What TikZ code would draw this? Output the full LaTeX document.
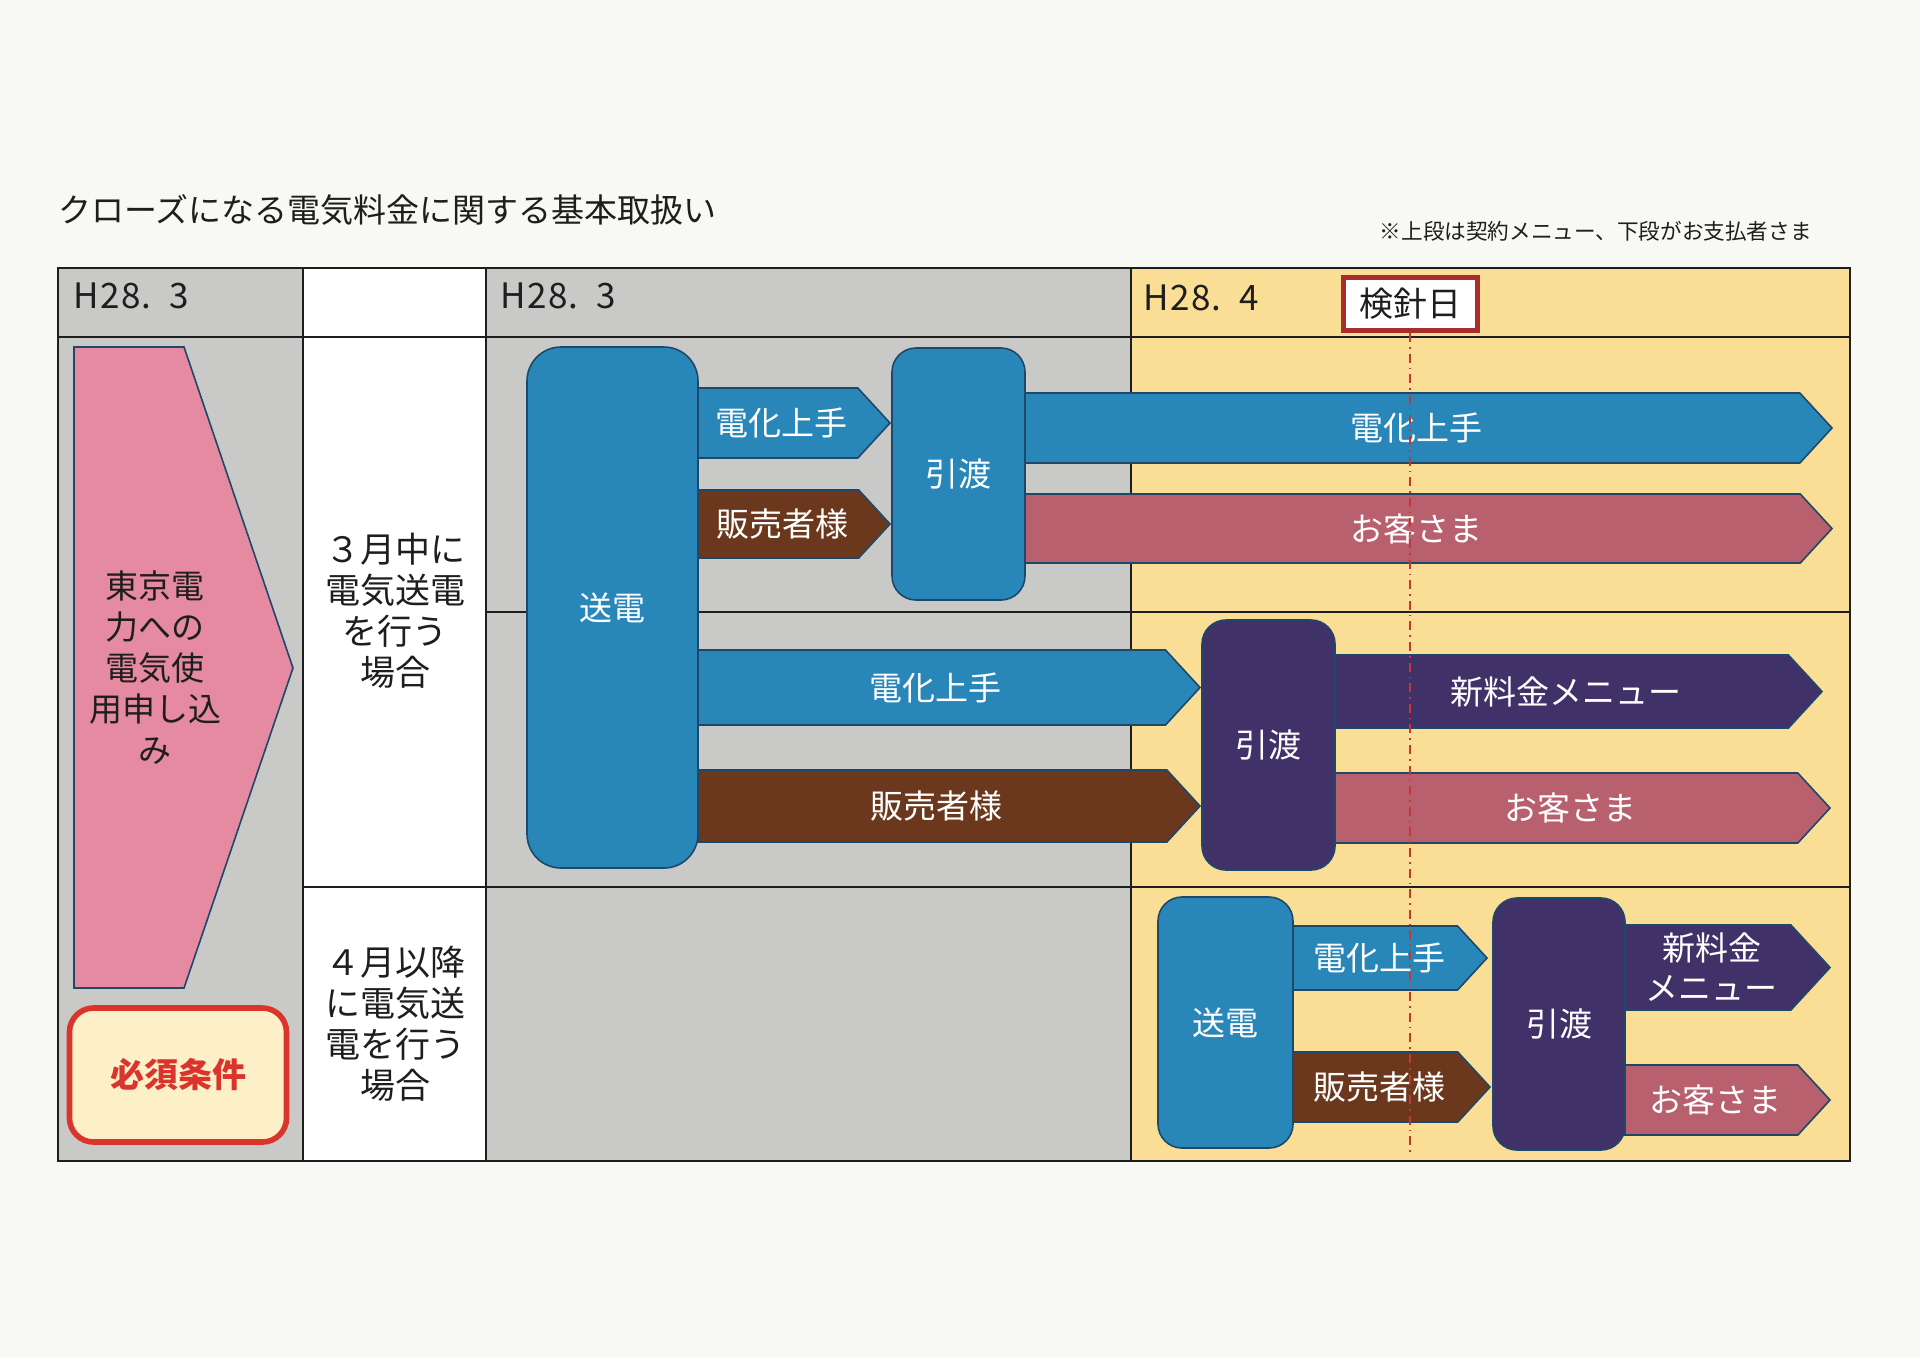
\documentclass[tikz,border=0pt]{standalone}
\usepackage{fontspec}
\setmainfont{Noto Sans CJK JP}
\definecolor{paper}{RGB}{248,248,245}
\definecolor{cgray}{RGB}{201,201,199}
\definecolor{cyellow}{RGB}{250,222,150}
\definecolor{cblue}{RGB}{41,134,184}
\definecolor{cbrown}{RGB}{107,56,30}
\definecolor{crose}{RGB}{184,96,110}
\definecolor{cpurple}{RGB}{64,50,104}
\definecolor{cpink}{RGB}{229,138,160}
\definecolor{ccream}{RGB}{253,240,200}
\definecolor{cred}{RGB}{218,52,45}
\definecolor{cdred}{RGB}{168,45,45}
\definecolor{cdash}{RGB}{196,55,50}
\definecolor{edge}{RGB}{30,72,105}
\definecolor{ink}{RGB}{30,30,30}
\tikzset{
  grid/.style={draw=ink, line width=1pt},
  wtxt/.style={text=white, font=\fontsize{16.5}{20}\selectfont, inner sep=0pt, align=center},
  btxt/.style={text=ink, font=\fontsize{17.5}{20.5}\selectfont, inner sep=0pt, align=center},
  hdr/.style={text=ink, font=\fontsize{17.5}{20}\selectfont\addfontfeature{LetterSpace=4}, inner sep=0pt, anchor=west},
  bluearrow/.style={fill=cblue, draw=edge, line width=0.8pt},
  brownarrow/.style={fill=cbrown, draw=edge, line width=0.8pt},
  rosearrow/.style={fill=crose, draw=edge, line width=0.8pt},
  purplearrow/.style={fill=cpurple, draw=edge, line width=0.8pt},
  bluebox/.style={fill=cblue, draw=edge, line width=0.8pt},
  purplebox/.style={fill=cpurple, draw=edge, line width=0.8pt},
}
% rounded box: name, x1, y1, x2, y2, style, text
\newcommand\rbox[7]{%
  \path[#6] (#2,#3) rectangle (#4,#5);
  \node[wtxt] (#1) at ({(#2+#4)/2},{(#3+#5)/2}) {#7};}
% chevron arrow: name, x1, y1, x2(tip), y2, style, text
\newcommand\chev[7]{%
  \path[#6] (#2,#3) -- ({#4-0.46*(#5-#3)},#3) -- (#4,{(#3+#5)/2}) -- ({#4-0.46*(#5-#3)},#5) -- (#2,#5) -- cycle;
  \node[wtxt] (#1) at ({(#2+#4-0.46*(#5-#3))/2+4},{(#3+#5)/2}) {#7};}
\begin{document}
\begin{tikzpicture}[x=0.5pt, y=-0.5pt]
\fill[paper] (0,0) rectangle (1920,1357);
\useasboundingbox (0,0) rectangle (1920,1357);

% title and note
\node[anchor=west, text=ink, inner sep=0pt, font=\fontsize{16.5}{20}\selectfont] (title) at (58,210) {クローズになる電気料金に関する基本取扱い};
\node[anchor=east, text=ink, inner sep=0pt, font=\fontsize{10.8}{13}\selectfont] (note) at (1812,231) {※上段は契約メニュー、下段がお支払者さま};

% cell fills
\fill[cgray] (58,268) rectangle (303,1161);
\fill[white] (303,268) rectangle (486,1161);
\fill[cgray] (486,268) rectangle (1131,1161);
\fill[cyellow] (1131,268) rectangle (1850,1161);

% grid lines
\draw[grid] (58,268) rectangle (1850,1161);
\draw[grid] (58,337) -- (1850,337);
\draw[grid] (303,268) -- (303,1161);
\draw[grid] (486,268) -- (486,1161);
\draw[grid] (1131,268) -- (1131,1161);
\draw[grid] (486,612) -- (1850,612);
\draw[grid] (303,887) -- (1850,887);

% headers
\node[hdr] (h1) at (73,296) {H28.\hspace{0.5em}3};
\node[hdr] (h2) at (500,296) {H28.\hspace{0.5em}3};
\node[hdr] (h3) at (1143,298) {H28.\hspace{0.5em}4};
\node[draw=cdred, line width=2.5pt, fill=white, minimum width=67pt, minimum height=26.5pt, inner sep=0pt, text=ink, font=\fontsize{17}{20}\selectfont] (kenshin) at (1410,304) {検針日};

% left column
\path[fill=cpink, draw=edge, line width=0.8pt] (74,347) -- (184,347) -- (293,668) -- (184,988) -- (74,988) -- cycle;
\node[btxt, font=\fontsize{16.5}{20.5}\selectfont] (tokyo) at (155,668) {東京電\\力への\\電気使\\用申し込\\み};
\node[draw=cred, line width=2.8pt, fill=ccream, rounded corners=12pt, minimum width=108.5pt, minimum height=67pt, text=cred, font=\fontsize{17}{20}\selectfont\bfseries] (hissu) at (178,1075) {必須条件};

% second column
\node[btxt] (case1) at (395,611) {３月中に\\電気送電\\を行う\\場合};
\node[btxt] (case2) at (395,1024) {４月以降\\に電気送\\電を行う\\場合};

% upper block
\chev{denkaA}{698}{388}{890}{458}{bluearrow}{電化上手}
\chev{hanbaiA}{698}{490}{890}{558}{brownarrow}{販売者様}
\chev{denkaB}{1025}{393}{1832}{463}{bluearrow}{電化上手}
\chev{okyakuA}{1025}{494}{1832}{563}{rosearrow}{お客さま}
\rbox{sodenA}{527}{347}{698}{868}{bluebox, rounded corners=17pt}{送電}
\rbox{hikiA}{892}{348}{1025}{600}{bluebox, rounded corners=12pt}{引渡}

% middle block
\chev{denkaC}{698}{650}{1200}{725}{bluearrow}{電化上手}
\chev{hanbaiB}{698}{770}{1200}{842}{brownarrow}{販売者様}
\chev{shinA}{1335}{655}{1822}{728}{purplearrow}{新料金メニュー}
\chev{okyakuB}{1335}{773}{1830}{843}{rosearrow}{お客さま}
\rbox{hikiB}{1202}{620}{1335}{870}{purplebox, rounded corners=12pt}{引渡}

% bottom block
\chev{denkaD}{1293}{926}{1487}{990}{bluearrow}{電化上手}
\chev{hanbaiC}{1293}{1052}{1490}{1122}{brownarrow}{販売者様}
\chev{shinB}{1625}{925}{1830}{1010}{purplearrow}{新料金\\メニュー}
\chev{okyakuC}{1625}{1065}{1830}{1135}{rosearrow}{お客さま}
\rbox{sodenB}{1158}{897}{1293}{1148}{bluebox, rounded corners=12pt}{送電}
\rbox{hikiC}{1493}{898}{1625}{1150}{purplebox, rounded corners=12pt}{引渡}

% meter-reading day line
\coordinate (dashend) at (1410,1155);
\draw[cdash, line width=1pt, dash pattern=on 4.5pt off 2.5pt on 0.8pt off 2.5pt] (kenshin.south) -- (dashend);
\end{tikzpicture}
\end{document}
